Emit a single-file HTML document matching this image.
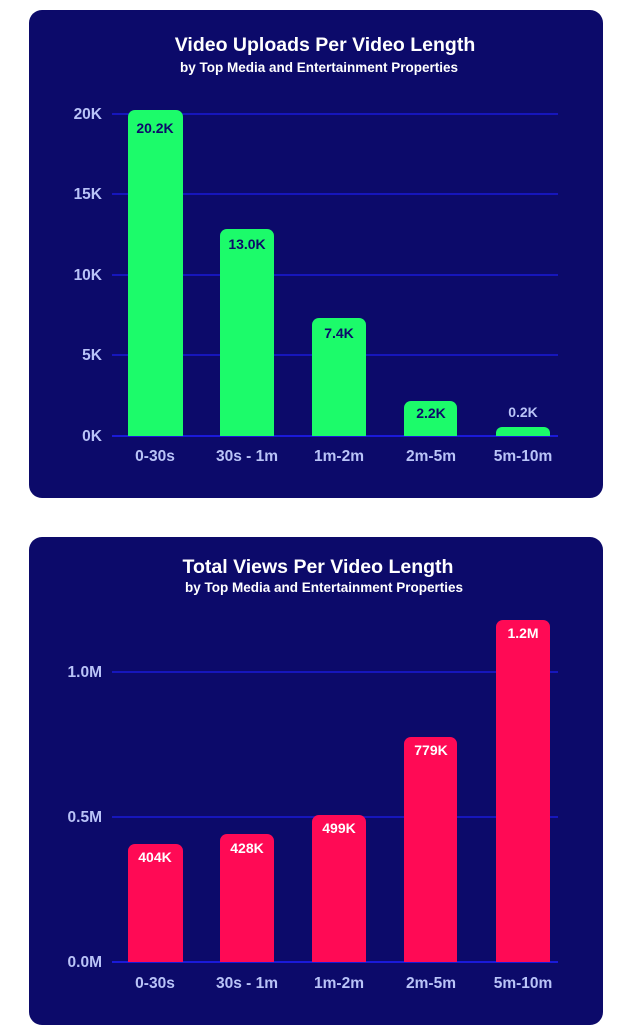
<!DOCTYPE html>
<html><head><style>
body{margin:0;background:#fff;width:640px;height:1036px;overflow:hidden;font-family:"Liberation Sans",sans-serif;}
svg{display:block}
</style></head><body>
<svg width="640" height="1036" xmlns="http://www.w3.org/2000/svg" font-family="Liberation Sans, sans-serif" font-weight="bold">
<rect x="29" y="10" width="574" height="488" rx="13" fill="#0c0a6a"/>
<rect x="29" y="537" width="574" height="488" rx="13" fill="#0c0a6a"/>
<g fill="#fff" text-anchor="middle">
<text x="325" y="51" font-size="19.5">Video Uploads Per Video Length</text>
<text x="319" y="72" font-size="13.5">by Top Media and Entertainment Properties</text>
<text x="318" y="573" font-size="19.5">Total Views Per Video Length</text>
<text x="324" y="592" font-size="13.5">by Top Media and Entertainment Properties</text>
</g>
<g stroke="#1a1ad8" stroke-width="1.5">
<line x1="112" x2="558" y1="114" y2="114"/><line x1="112" x2="558" y1="194" y2="194"/>
<line x1="112" x2="558" y1="275" y2="275"/><line x1="112" x2="558" y1="355" y2="355"/>
<line x1="112" x2="558" y1="436" y2="436" stroke-width="2"/>
<line x1="112" x2="558" y1="672" y2="672"/><line x1="112" x2="558" y1="817" y2="817"/>
<line x1="112" x2="558" y1="962" y2="962" stroke-width="2"/>
</g>
<g fill="#b9c3f7" font-size="15.5" text-anchor="end">
<text x="102" y="119">20K</text><text x="102" y="199">15K</text><text x="102" y="280">10K</text>
<text x="102" y="360">5K</text><text x="102" y="441">0K</text>
<text x="102" y="677">1.0M</text><text x="102" y="822">0.5M</text><text x="102" y="967">0.0M</text>
</g>
<g fill="#b9c3f7" font-size="15.5" text-anchor="middle">
<text x="155" y="461">0-30s</text><text x="247" y="461">30s - 1m</text><text x="339" y="461">1m-2m</text><text x="431" y="461">2m-5m</text><text x="523" y="461">5m-10m</text>
<text x="155" y="988">0-30s</text><text x="247" y="988">30s - 1m</text><text x="339" y="988">1m-2m</text><text x="431" y="988">2m-5m</text><text x="523" y="988">5m-10m</text>
</g>
<g fill="#1cfb6a">
<path d="M128 436V117a7 7 0 0 1 7-7h41a7 7 0 0 1 7 7V436z"/>
<path d="M220 436V236a7 7 0 0 1 7-7h40a7 7 0 0 1 7 7V436z"/>
<path d="M312 436V325a7 7 0 0 1 7-7h40a7 7 0 0 1 7 7V436z"/>
<path d="M404 436V408a7 7 0 0 1 7-7h39a7 7 0 0 1 7 7V436z"/>
<path d="M496 436V433a6 6 0 0 1 6-6h42a6 6 0 0 1 6 6V436z"/>
</g>
<g fill="#0c0a6a" font-size="14" text-anchor="middle">
<text x="155" y="133">20.2K</text><text x="247" y="249">13.0K</text><text x="339" y="338">7.4K</text><text x="431" y="418">2.2K</text>
</g>
<text x="523" y="417" fill="#b9c3f7" font-size="14" text-anchor="middle">0.2K</text>
<g fill="#ff0a55">
<path d="M128 962V851a7 7 0 0 1 7-7h41a7 7 0 0 1 7 7V962z"/>
<path d="M220 962V841a7 7 0 0 1 7-7h40a7 7 0 0 1 7 7V962z"/>
<path d="M312 962V822a7 7 0 0 1 7-7h40a7 7 0 0 1 7 7V962z"/>
<path d="M404 962V744a7 7 0 0 1 7-7h39a7 7 0 0 1 7 7V962z"/>
<path d="M496 962V627a7 7 0 0 1 7-7h40a7 7 0 0 1 7 7V962z"/>
</g>
<g fill="#fff" font-size="14" text-anchor="middle">
<text x="155" y="862">404K</text><text x="247" y="853">428K</text><text x="339" y="833">499K</text><text x="431" y="755">779K</text><text x="523" y="638">1.2M</text>
</g>
</svg>
</body></html>
